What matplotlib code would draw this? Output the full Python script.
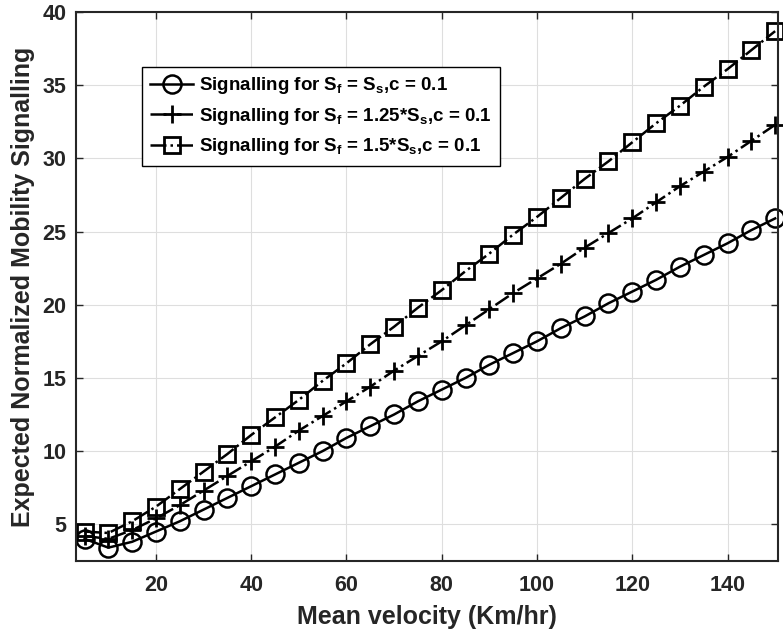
import matplotlib
matplotlib.use("Agg")
import matplotlib.pyplot as plt

velocity = [5, 10, 15, 20, 25, 30, 35, 40, 45, 50, 55, 60, 65, 70, 75,
            80, 85, 90, 95, 100, 105, 110, 115, 120, 125, 130, 135, 140, 145, 150]
sig_equal = [4.0, 3.4, 3.8, 4.5, 5.2, 6.0, 6.8, 7.6, 8.4, 9.2, 10.0, 10.9, 11.7, 12.5, 13.4,
             14.2, 15.0, 15.9, 16.7, 17.5, 18.4, 19.2, 20.1, 20.9, 21.7, 22.6, 23.4, 24.2, 25.1, 25.9]
sig_125 = [4.2, 4.0, 4.6, 5.4, 6.3, 7.3, 8.3, 9.3, 10.3, 11.4, 12.4, 13.4, 14.4, 15.5, 16.5,
           17.5, 18.6, 19.7, 20.8, 21.8, 22.8, 23.9, 24.9, 25.9, 27.0, 28.1, 29.1, 30.1, 31.2, 32.3]
sig_15 = [4.5, 4.4, 5.2, 6.2, 7.4, 8.6, 9.8, 11.1, 12.3, 13.5, 14.8, 16.0, 17.3, 18.5, 19.8,
          21.0, 22.3, 23.5, 24.8, 26.0, 27.3, 28.6, 29.8, 31.1, 32.4, 33.6, 34.9, 36.1, 37.4, 38.7]
labels = [r'Signalling for S$_\mathbf{f}$ = S$_\mathbf{s}$,c = 0.1',
          r'Signalling for S$_\mathbf{f}$ = 1.25*S$_\mathbf{s}$,c = 0.1',
          r'Signalling for S$_\mathbf{f}$ = 1.5*S$_\mathbf{s}$,c = 0.1']
xticks = [20, 40, 60, 80, 100, 120, 140]
yticks = [5, 10, 15, 20, 25, 30, 35, 40]

plt.rcParams['font.family'] = ['Liberation Sans', 'DejaVu Sans']
plt.rcParams['font.weight'] = 'bold'
plt.rcParams['mathtext.fontset'] = 'custom'
plt.rcParams['mathtext.bf'] = 'Liberation Sans:bold'
plt.rcParams['mathtext.rm'] = 'Liberation Sans:bold'
plt.rcParams['mathtext.default'] = 'bf'

fig = plt.figure(figsize=(7.83, 6.38), dpi=100)
ax = fig.add_axes([0.097, 0.121, 0.896, 0.860])

ax.plot(velocity, sig_equal, color='black', linestyle='-', linewidth=1.8,
        marker='o', markersize=13, markerfacecolor='none', markeredgewidth=1.8,
        label=labels[0], clip_on=False)
ax.plot(velocity, sig_125, color='black', linestyle='-.', linewidth=1.8,
        marker='+', markersize=13, markeredgewidth=2.0, label=labels[1], clip_on=False)
ax.plot(velocity, sig_15, color='black', linestyle='-.', linewidth=1.8,
        marker='s', markersize=11.5, markerfacecolor='none', markeredgewidth=2.0,
        label=labels[2], clip_on=False)

ax.set_xlim(3.2, 150.5)
ax.set_ylim(2.5, 40)
ax.set_xticks(xticks)
ax.set_yticks(yticks)
ax.grid(True, color='#dedede', linewidth=0.8)
ax.set_axisbelow(True)
ax.tick_params(direction='in', length=5, width=1, colors='#262626',
               labelsize=15.5, top=True, right=True)
ax.tick_params(axis='x', pad=10)
ax.tick_params(axis='y', pad=7)
for lab in ax.get_xticklabels() + ax.get_yticklabels():
    lab.set_fontweight('bold')
for sp in ax.spines.values():
    sp.set_linewidth(1.5)
    sp.set_color('#262626')

ax.set_xlabel('Mean velocity (Km/hr)', fontsize=18, fontweight='bold', color='#262626', labelpad=7)
ax.set_ylabel('Expected Normalized Mobility Signalling', fontsize=18, fontweight='bold',
              color='#262626', labelpad=5)

leg = ax.legend(loc='upper left', bbox_to_anchor=(0.094, 0.90), borderaxespad=0,
                fontsize=13.5, frameon=True, fancybox=False, framealpha=1,
                edgecolor='black', handlelength=2.3, handletextpad=0.3,
                labelspacing=0.5, borderpad=0.45)
leg.get_frame().set_linewidth(1.0)
for t in leg.get_texts():
    t.set_fontweight('bold')

fig.savefig('out.png', dpi=100)
